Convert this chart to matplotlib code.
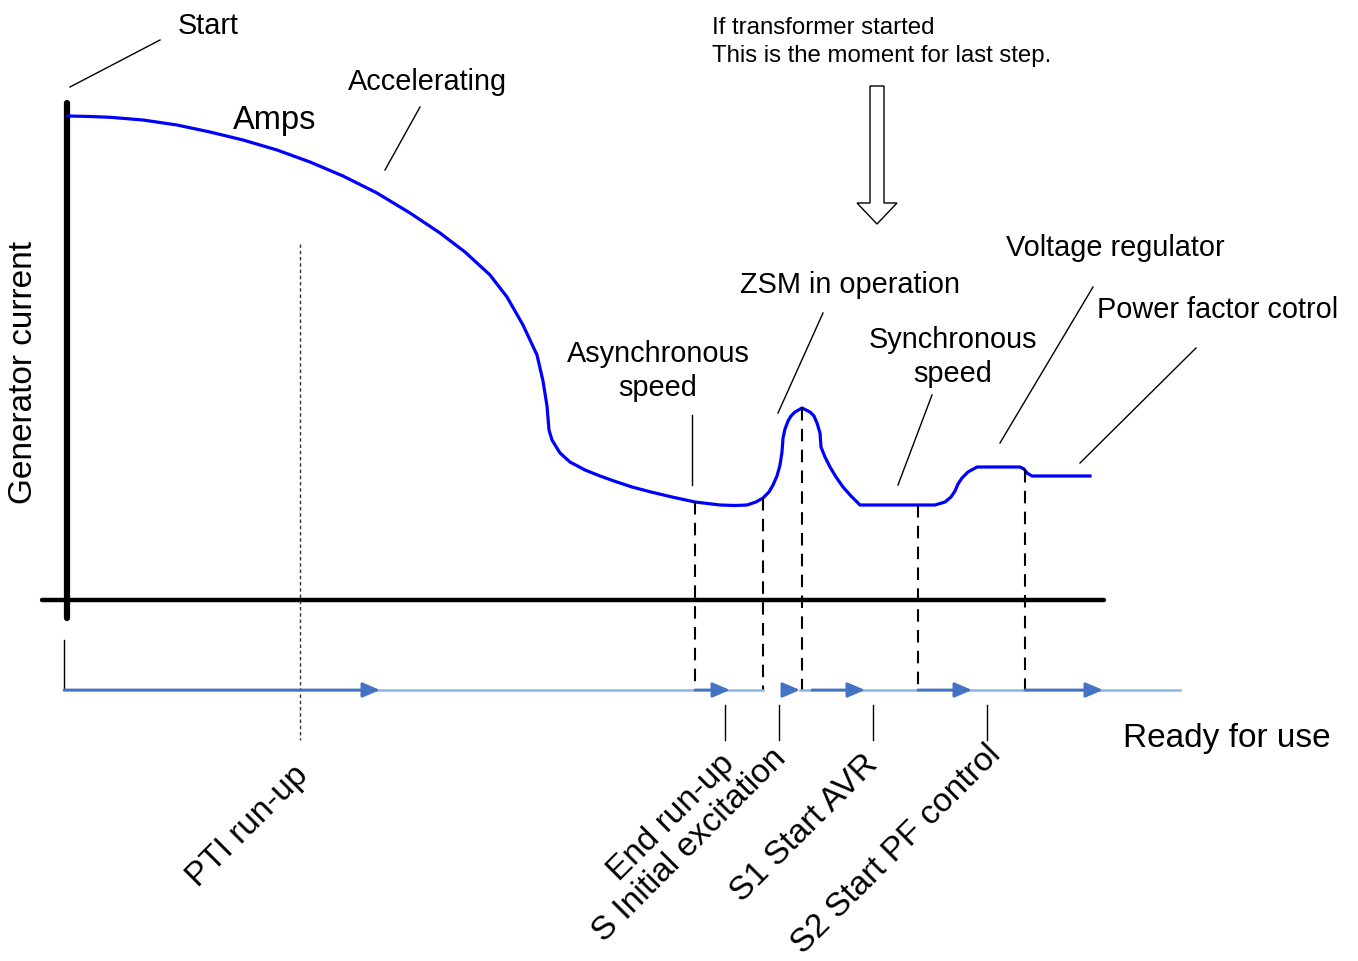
import numpy as np
import matplotlib; matplotlib.use("Agg")
import matplotlib.pyplot as plt
from matplotlib.patches import Polygon

# ---------- dati (coordinate pixel, y verso il basso) ----------
curve_x = [68, 90, 110, 143, 177, 210, 243, 277, 310, 343, 377, 410, 440, 465, 490,
           507, 523, 537, 543, 547, 549, 552, 560, 570, 585, 600, 614, 632, 651, 672, 695,
           720, 735, 747, 756, 763, 769, 773, 777, 780, 782, 783, 785, 788, 791, 795, 802,
           810, 814, 817, 820, 821, 825, 830, 836, 843, 851, 860, 918, 935, 945, 951, 955,
           958, 962, 968, 977, 1020, 1024, 1027, 1032, 1090]
curve_y = [116, 116.5, 117.3, 120, 125, 132, 140, 150, 162, 176, 193, 213, 233, 252, 275,
           297, 325, 355, 381, 406, 430, 440, 453, 462, 470, 476, 481, 487, 492, 497, 502,
           505, 505.5, 505, 502, 498, 492, 485, 476, 465, 452, 438, 429, 421, 416, 412, 408,
           412, 416, 423, 433, 447, 457, 467, 477, 487, 496, 505, 505, 505, 502, 497, 491,
           484, 478, 472, 467, 467, 469, 473, 476, 476]

# eventi: linee tratteggiate verticali (x, y dove toccano la curva)
event_x = [695, 763, 802, 918, 1025]
event_top = [502, 498, 408, 505, 470]

# tacche sotto la linea del tempo e relative etichette
tick_x = [725, 779, 873, 987]
tick_labels = ["End run-up", "S Initial excitation", "S1 Start AVR", "S2 Start PF control"]
tick_anchor = [(719, 748), (770, 743), (862, 749), (985, 739)]

# frecce blu sulla linea del tempo (inizio, punta)
arrow_segs = [(64, 380), (695, 730), (786, 800), (812, 865), (918, 972), (1025, 1103)]
light_segs = [(64, 763), (800, 1180)]

# linee guida delle annotazioni
leaders = [((70, 87), (160, 40)),       # Start
           ((385, 170), (420, 107)),    # Accelerating
           ((692, 485), (692, 415)),    # Asynchronous speed
           ((778, 413), (823, 313)),    # ZSM
           ((898, 485), (932, 395)),    # Synchronous speed
           ((1000, 443), (1093, 287)),  # Voltage regulator
           ((1080, 463), (1196, 348))]  # Power factor

labels = [("Start", 208, 26), ("Accelerating", 428, 82), ("Amps", 275, 120),
          ("ZSM in operation", 850, 285), ("Asynchronous\nspeed", 658, 371),
          ("Synchronous\nspeed", 953, 357), ("Voltage regulator", 1115, 248),
          ("Power factor cotrol", 1218, 310)]

BLUE = "#0000FF"; DARK = "#4472C4"; LIGHT = "#8EB4E3"; INK = "black"
plt.rcParams["font.family"] = ["Liberation Sans", "DejaVu Sans"]

W, H = 1358, 961
fig = plt.figure(figsize=(W/100, H/100), dpi=100)
ax = fig.add_axes([0, 0, 1, 1])
ax.set_xlim(0, W); ax.set_ylim(H, 0); ax.axis("off")

# assi
ax.plot([67, 67], [103, 618], color=INK, lw=4.5, solid_capstyle="round")
ax.plot([42, 1104], [600, 600], color=INK, lw=3.2, solid_capstyle="round")
ax.plot([64, 64], [640, 690], color=INK, lw=1)

# curva della corrente
ax.plot(curve_x, curve_y, color=BLUE, lw=2.3, solid_joinstyle="round")

# linee tratteggiate degli eventi
for x, yt in zip(event_x, event_top):
    ax.plot([x, x], [yt, 690], color=INK, lw=1.5, dashes=(6, 4))
ax.plot([300, 300], [244, 740], color="#333333", lw=1, dashes=(2.5, 2))

# linea del tempo
for a, b in light_segs:
    ax.plot([a, b], [690, 690], color=LIGHT, lw=1.8)
for a, b in arrow_segs:
    ax.annotate("", xy=(b, 690), xytext=(a, 690),
                arrowprops=dict(arrowstyle="-|>,head_length=0.7,head_width=0.3",
                                color=DARK, lw=2, mutation_scale=15,
                                shrinkA=0, shrinkB=0))

for x in tick_x:
    ax.plot([x, x], [705, 740], color=INK, lw=1)

# etichette ruotate
ax.text(292, 760, "PTI run-up", rotation=45, rotation_mode="anchor",
        ha="right", va="top", fontsize=24)
for (xa, ya), lab in zip(tick_anchor, tick_labels):
    ax.text(xa, ya, lab, rotation=45, rotation_mode="anchor",
            ha="right", va="top", fontsize=24)

# annotazioni
for (p0, p1) in leaders:
    ax.plot([p0[0], p1[0]], [p0[1], p1[1]], color=INK, lw=1)
for txt, x, y in labels:
    fs = 23.5 if txt == "Amps" else 20.8
    ax.text(x, y, txt, ha="center", va="center", fontsize=fs, linespacing=1.3)

ax.text(24, 372, "Generator current", rotation=90, ha="center", va="center", fontsize=24)
ax.text(1227, 738, "Ready for use", ha="center", va="center", fontsize=24)
ax.text(712, 42, "If transformer started\nThis is the moment for last step.",
        ha="left", va="center", fontsize=17.3, linespacing=1.4)

# freccia vuota
ax.add_patch(Polygon([(870, 86), (884, 86), (884, 203), (897, 203), (877, 224),
                      (857, 203), (870, 203)], closed=True, facecolor="white",
                     edgecolor=INK, lw=1))

fig.savefig("out.png", dpi=100)
